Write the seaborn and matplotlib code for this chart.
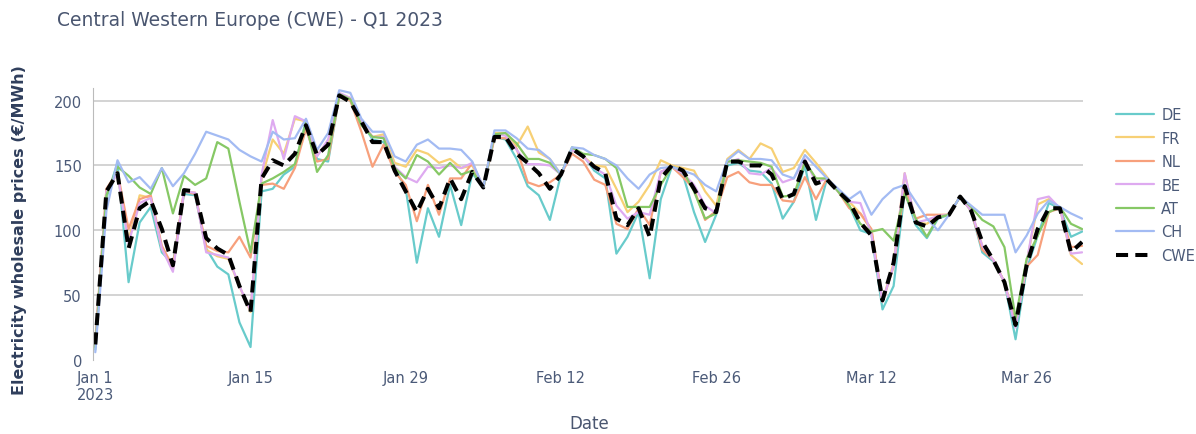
import pandas as pd
import matplotlib.pyplot as plt
import seaborn as sns

dates = pd.date_range("2023-01-01", "2023-03-31", freq="D")

de = [8, 125, 152, 60, 106, 118, 83, 74, 128, 127, 86, 72, 66, 29, 10,
      130, 132, 143, 149, 185, 155, 153, 203, 200, 184, 170, 168, 148, 132, 75,
      117, 95, 135, 104, 144, 133, 172, 170, 155, 134, 127, 108, 143, 163, 158,
      146, 140, 82, 95, 114, 63, 124, 149, 143, 114, 91, 112, 150, 152, 146,
      145, 136, 109, 122, 150, 108, 140, 130, 119, 100, 97, 39, 57, 130, 104,
      94, 109, 112, 126, 115, 83, 76, 60, 16, 70, 96, 121, 117, 95, 99]
fr = [12, 130, 144, 92, 127, 125, 86, 70, 130, 129, 85, 80, 78, 57, 37,
      140, 170, 159, 186, 184, 158, 168, 205, 202, 184, 172, 174, 152, 149, 162,
      159, 152, 155, 148, 150, 133, 175, 175, 165, 180, 160, 155, 143, 162, 157,
      150, 149, 132, 114, 122, 135, 154, 150, 148, 146, 130, 119, 155, 162, 155,
      167, 163, 145, 148, 162, 152, 141, 130, 122, 113, 100, 45, 75, 144, 106,
      105, 111, 112, 126, 115, 88, 77, 60, 27, 75, 120, 124, 117, 81, 74]
nl = [15, 132, 145, 101, 124, 127, 88, 72, 130, 128, 88, 84, 83, 95, 79,
      135, 136, 132, 148, 178, 153, 155, 203, 200, 176, 149, 166, 145, 135, 107,
      135, 112, 140, 140, 152, 133, 171, 171, 163, 137, 134, 137, 143, 159, 153,
      139, 135, 105, 101, 117, 104, 145, 149, 141, 132, 108, 115, 141, 145, 137,
      135, 135, 123, 122, 141, 124, 140, 130, 117, 113, 101, 45, 72, 134, 109,
      112, 112, 112, 126, 115, 85, 77, 60, 27, 72, 81, 114, 117, 87, 88]
be = [12, 130, 144, 90, 121, 125, 86, 68, 130, 129, 83, 81, 79, 57, 38,
      143, 185, 155, 188, 184, 157, 170, 206, 202, 184, 172, 172, 149, 141, 137,
      149, 148, 150, 148, 152, 133, 174, 173, 162, 151, 151, 150, 143, 162, 157,
      148, 143, 119, 109, 114, 112, 145, 149, 144, 135, 119, 113, 152, 155, 144,
      143, 148, 137, 140, 155, 137, 140, 130, 122, 121, 97, 45, 73, 144, 106,
      108, 111, 112, 126, 115, 88, 77, 60, 25, 75, 124, 126, 117, 82, 83]
at = [10, 127, 149, 142, 133, 128, 148, 113, 142, 135, 140, 168, 163, 122, 83,
      136, 140, 145, 151, 183, 145, 158, 205, 201, 181, 172, 171, 148, 140, 158,
      153, 143, 152, 143, 146, 133, 174, 175, 167, 155, 155, 152, 143, 164, 159,
      158, 155, 148, 118, 118, 118, 135, 149, 146, 130, 109, 113, 153, 154, 153,
      152, 149, 126, 127, 153, 140, 140, 130, 119, 105, 99, 101, 92, 128, 109,
      95, 110, 112, 126, 118, 108, 103, 87, 32, 78, 96, 114, 118, 105, 101]
ch = [6, 115, 154, 137, 141, 132, 148, 134, 144, 159, 176, 173, 170, 162, 157,
      153, 176, 170, 171, 186, 162, 175, 208, 206, 186, 176, 176, 157, 153, 166,
      170, 163, 163, 162, 153, 133, 177, 177, 171, 163, 162, 155, 143, 164, 163,
      158, 155, 150, 140, 132, 143, 148, 149, 146, 143, 135, 130, 154, 161, 155,
      155, 154, 143, 140, 158, 149, 140, 132, 124, 130, 112, 124, 132, 135, 122,
      109, 100, 112, 126, 119, 112, 112, 112, 83, 96, 113, 123, 118, 113, 109]
cwe = [12, 130, 144, 86, 117, 123, 101, 73, 131, 130, 94, 86, 81, 57, 37,
       140, 154, 150, 159, 181, 158, 166, 204, 199, 184, 168, 168, 146, 130, 114,
       132, 117, 140, 124, 145, 133, 172, 172, 159, 152, 144, 132, 143, 163, 157,
       149, 144, 109, 104, 117, 95, 140, 150, 146, 132, 117, 114, 153, 153, 150,
       150, 143, 124, 128, 153, 136, 139, 130, 122, 106, 96, 46, 75, 134, 106,
       103, 110, 112, 126, 115, 91, 77, 60, 27, 73, 101, 117, 117, 83, 91]

series = {"DE": de, "FR": fr, "NL": nl, "BE": be, "AT": at, "CH": ch}
colors = {"DE": "#68cbcb", "FR": "#f7d075", "NL": "#f7a07c",
          "BE": "#deaaf0", "AT": "#86c865", "CH": "#a3bbf3"}

sns.set_style("white")
plt.rcParams["font.family"] = ["DejaVu Sans"]

tick_col = "#4b5a78"
y_top = 210
fig = plt.figure(figsize=(11.96, 4.35), dpi=100)
top_px = 361 - 1.297 * y_top
ax = fig.add_axes([93 / 1196, 1 - 361 / 435, (1083 - 93) / 1196, (361 - top_px) / 435])

for name, vals in series.items():
    sns.lineplot(x=dates, y=vals, ax=ax, color=colors[name], linewidth=1.6, label=name)
sns.lineplot(x=dates, y=cwe, ax=ax, color="black", linewidth=2.9, label="CWE")
ax.lines[-1].set_dashes([3, 1.8])

ax.set_xlim(dates[0] - pd.Timedelta(hours=5), dates[-1] + pd.Timedelta(hours=2))
ax.set_ylim(0, y_top)
ax.set_yticks([0, 50, 100, 150, 200])
ax.yaxis.grid(True, color="#cccccc", linewidth=1.2)
ax.get_ygridlines()[0].set_visible(False)
ax.xaxis.grid(False)

ticks = pd.to_datetime(["2023-01-01", "2023-01-15", "2023-01-29", "2023-02-12",
                        "2023-02-26", "2023-03-12", "2023-03-26"])
ax.set_xticks(ticks)
ax.set_xticklabels(["Jan 1\n2023", "Jan 15", "Jan 29", "Feb 12", "Feb 26", "Mar 12", "Mar 26"])
ax.tick_params(axis="y", labelsize=10.5, colors=tick_col, length=5, width=1, pad=3)
ax.tick_params(axis="y", color="#bbbbbb")
ax.tick_params(axis="x", labelsize=10.5, colors=tick_col, length=0, pad=7)
for lab in ax.get_xticklabels():
    lab.set_horizontalalignment("center")

for s in ["top", "right", "bottom"]:
    ax.spines[s].set_visible(False)
ax.spines["left"].set_color("#bbbbbb")

ax.set_xlabel("")
ax.set_ylabel("")
fig.text(57 / 1196, 1 - 20 / 435, "Central Western Europe (CWE) - Q1 2023",
         fontsize=13.5, color="#4a5670", va="center", ha="left")
fig.text(20 / 1196, 0.47, "Electricity wholesale prices (€/MWh)", rotation=90,
         fontsize=11.5, fontweight="bold", color="#2f3e5c", va="center", ha="center")
fig.text(589 / 1196, 1 - 424 / 435, "Date", fontsize=12, color="#4a5670",
         va="center", ha="center")

leg = ax.legend(loc="upper left", bbox_to_anchor=(1103 / 1196, 1 - 95 / 435),
                bbox_transform=fig.transFigure, frameon=False, fontsize=10.5,
                handlelength=2.6, labelspacing=0.58, handletextpad=0.5)
for t in leg.get_texts():
    t.set_color(tick_col)

fig.savefig("out.png", dpi=100)
